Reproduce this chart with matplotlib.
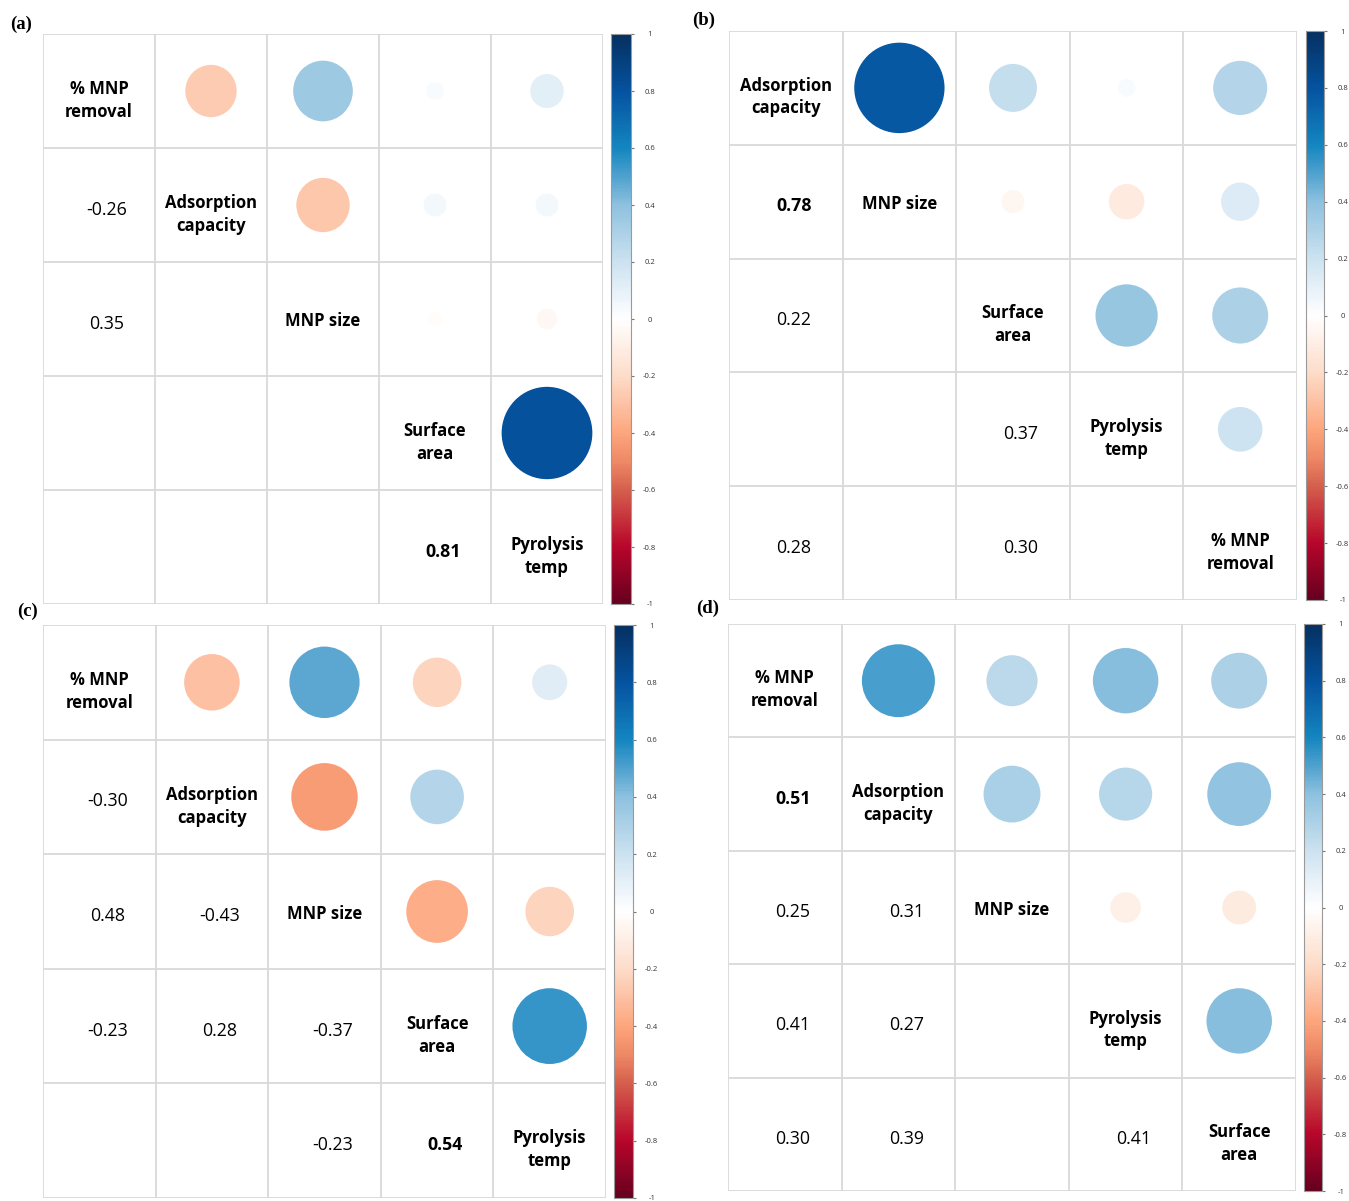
"""Four corrplot-style correlation matrices (a)-(d): circles above the diagonal,
coefficients below it, variable names on the diagonal."""
import numpy as np
import matplotlib
matplotlib.use("Agg")
import matplotlib.pyplot as plt
from matplotlib.colors import LinearSegmentedColormap, Normalize
from matplotlib.cm import ScalarMappable
from matplotlib.patches import Ellipse

W, H = 1349, 1201

# ---- data -------------------------------------------------------------
a_labels = ["% MNP\nremoval", "Adsorption\ncapacity", "MNP size", "Surface\narea", "Pyrolysis\ntemp"]
a_upper = [[-0.26, 0.35, 0.03, 0.11],
           [-0.28, 0.05, 0.05],
           [-0.02, -0.04],
           [0.81]]
a_lower = [[-0.26],
           [0.35, None],
           [None, None, None],
           [None, None, None, 0.81]]

b_labels = ["Adsorption\ncapacity", "MNP size", "Surface\narea", "Pyrolysis\ntemp", "% MNP\nremoval"]
b_upper = [[0.78, 0.22, 0.03, 0.28],
           [-0.05, -0.12, 0.14],
           [0.37, 0.30],
           [0.19]]
b_lower = [[0.78],
           [0.22, None],
           [None, None, 0.37],
           [0.28, None, 0.30, None]]

c_labels = ["% MNP\nremoval", "Adsorption\ncapacity", "MNP size", "Surface\narea", "Pyrolysis\ntemp"]
c_upper = [[-0.30, 0.48, -0.23, 0.12],
           [-0.43, 0.28, 0.0],
           [-0.37, -0.23],
           [0.54]]
c_lower = [[-0.30],
           [0.48, -0.43],
           [-0.23, 0.28, -0.37],
           [None, None, -0.23, 0.54]]

d_labels = ["% MNP\nremoval", "Adsorption\ncapacity", "MNP size", "Pyrolysis\ntemp", "Surface\narea"]
d_upper = [[0.51, 0.25, 0.41, 0.30],
           [0.31, 0.27, 0.39],
           [-0.09, -0.11],
           [0.41]]
d_lower = [[0.51],
           [0.25, 0.31],
           [0.41, 0.27, None],
           [0.30, 0.39, None, 0.41]]

cbar_ticks = [1, 0.8, 0.6, 0.4, 0.2, 0, -0.2, -0.4, -0.6, -0.8, -1]
cbar_ticklabels = ["1", "0.8", "0.6", "0.4", "0.2", "0", "-0.2", "-0.4", "-0.6", "-0.8", "-1"]

ramp_pos = [0.0, 0.1, 0.2, 0.25, 0.3, 0.4, 0.5, 0.6, 0.7, 0.75, 0.8, 0.9, 1.0]
ramp_col = ["#67001F", "#B8062B", "#D5604D", "#EE8966", "#FDA67E", "#FDDCC9", "#FFFFFF",
            "#CCE2F0", "#8EC1DF", "#50A2CE", "#1486C0", "#0553A0", "#053061"]
cmap = LinearSegmentedColormap.from_list("corr", list(zip(ramp_pos, ramp_col)), N=256)
norm = Normalize(-1, 1)

GRID = "#D9D9D9"
SANS = ["Open Sans", "DejaVu Sans"]


def px_rect(x0, y0, x1, y1):
    return [x0 / W, 1 - y1 / H, (x1 - x0) / W, (y1 - y0) / H]


def draw_panel(fig, grid_px, cbar_px, labels, upper, lower):
    ax = fig.add_axes(px_rect(*grid_px))
    n = len(labels)
    ax.set_xlim(0, n)
    ax.set_ylim(n, 0)
    ax.set_axis_off()
    for k in range(n + 1):
        ax.plot([k, k], [0, n], color=GRID, lw=1.3, zorder=1, solid_capstyle="butt")
        ax.plot([0, n], [k, k], color=GRID, lw=1.3, zorder=1, solid_capstyle="butt")

    for i, name in enumerate(labels):
        dy = 0.08 if "\n" in name else 0.02
        ax.text(i + 0.5, i + 0.5 + dy, name, ha="center", va="center", fontsize=12,
                fontweight="bold", family=SANS, linespacing=1.35, zorder=3)

    for i, row in enumerate(upper):
        for k, r in enumerate(row):
            j = i + 1 + k
            d = 0.9 * np.sqrt(abs(r))
            if d > 0:
                ax.add_patch(Ellipse((j + 0.5, i + 0.5), d, d, facecolor=cmap(norm(r)),
                                     edgecolor="none", zorder=2))

    for i, row in enumerate(lower):
        for j, r in enumerate(row):
            if r is None:
                continue
            ax.text(j + 0.57, i + 1.54, f"{r:.2f}", ha="center", va="center",
                    fontsize=12.8, family=SANS,
                    fontweight="bold" if abs(r) >= 0.5 else "normal", zorder=3)

    cax = fig.add_axes(px_rect(cbar_px[0], grid_px[1], cbar_px[1], grid_px[3]))
    cb = fig.colorbar(ScalarMappable(norm=norm, cmap=cmap), cax=cax)
    cb.outline.set_edgecolor("#9A9A9A")
    cb.outline.set_linewidth(0.8)
    cb.set_ticks(cbar_ticks)
    cb.set_ticklabels(cbar_ticklabels)
    cax.tick_params(axis="y", direction="out", length=2.5, width=0.8, color="#777777",
                    labelsize=5.5, labelcolor="#333333", pad=11)
    for t in cax.get_yticklabels():
        t.set_horizontalalignment("center")
        t.set_family(SANS)
    return ax


fig = plt.figure(figsize=(W / 100, H / 100), dpi=100)
fig.patch.set_facecolor("white")

draw_panel(fig, (43, 34, 603, 604), (611, 631), a_labels, a_upper, a_lower)
draw_panel(fig, (729, 31, 1297, 600), (1306, 1324), b_labels, b_upper, b_lower)
draw_panel(fig, (43, 625, 606, 1198), (614, 633), c_labels, c_upper, c_lower)
draw_panel(fig, (728, 624, 1296, 1191), (1304, 1322), d_labels, d_upper, d_lower)

for tag, x, y in [("(a)", 10, 24), ("(b)", 692, 20), ("(c)", 17, 611), ("(d)", 696, 608)]:
    fig.text(x / W, 1 - y / H, tag, ha="left", va="center", fontsize=13.5,
             fontweight="bold", family="Liberation Serif")

fig.savefig("out.png", dpi=100, facecolor="white")
